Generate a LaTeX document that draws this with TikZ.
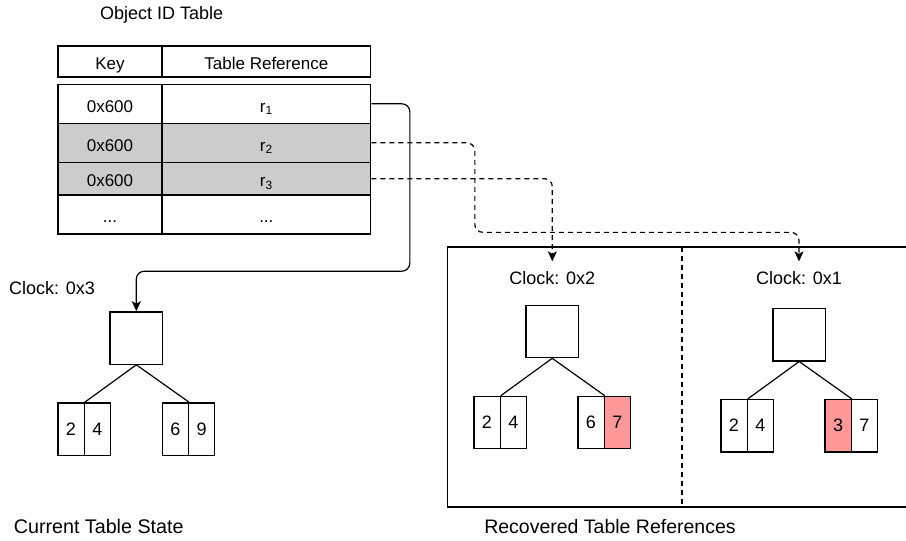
\documentclass[tikz,border=0pt]{standalone}
\usepackage{fontspec}
\setmainfont{Liberation Sans}
\usetikzlibrary{arrows.meta}
\definecolor{grayfill}{HTML}{CCCCCC}
\definecolor{pinkfill}{HTML}{FF9999}
\begin{document}
\begin{tikzpicture}[x=1pt,y=-1pt, line width=1.3pt,
 box/.style={draw, inner sep=0pt},
 tcell/.style={box, minimum height=39pt, text height=16.5pt, text depth=0pt, font=\fontsize{17}{20}\selectfont},
 kcol/.style={minimum width=104pt},
 rcol/.style={minimum width=208.7pt},
 shaded/.style={fill=grayfill},
 leaf/.style={box, minimum width=26.3pt, minimum height=52.3pt, font=\fontsize{18}{21}\selectfont},
 hot/.style={fill=pinkfill},
 rootbox/.style={box, minimum width=52.5pt, minimum height=52.3pt},
 lbl/.style={inner sep=0pt, minimum height=32pt, font=\fontsize{18}{21}\selectfont},
 captext/.style={inner sep=0pt, font=\fontsize{19.7}{23}\selectfont},
 link/.style={line width=1.2pt, rounded corners=8pt, -{Stealth[length=10pt,width=9pt,inset=2.5pt]}},
 dlink/.style={link, dash pattern=on 5pt off 4pt},
 branch/.style={line width=1.2pt}
]
\useasboundingbox (0,0) rectangle (906,541);

% captions
\node[captext, font=\fontsize{18}{21}\selectfont] (cap0) at (161.7,15) {Object ID Table};
\node[captext] (cap1) at (98.7,526) {Current Table State};
\node[captext, font=\fontsize{19.5}{23}\selectfont] (cap2) at (610,527) {Recovered Table References};

% table header
\node[tcell, kcol, minimum height=31pt] (hk) at (110,61.5) {Key};
\node[tcell, rcol, minimum height=31pt] (hr) at (266.35,61.5) {Table Reference};

% table body
\node[tcell, kcol] (k1) at (110,103.8) {0x600};
\node[tcell, rcol] (t1) at (266.35,103.8) {r\textsubscript{1}};
\node[tcell, kcol, shaded] (k2) at (110,142.8) {0x600};
\node[tcell, rcol, shaded] (t2) at (266.35,142.8) {r\textsubscript{2}};
\node[tcell, kcol, shaded, minimum height=32.7pt] (k3) at (110,178.65) {0x600};
\node[tcell, rcol, shaded, minimum height=32.7pt] (t3) at (266.35,178.65) {r\textsubscript{3}};
\node[tcell, kcol] (k4) at (110,214.5) {...};
\node[tcell, rcol] (t4) at (266.35,214.5) {...};

% recovered frame
\draw (447.5,247) rectangle (910,507);
\draw[line width=1.2pt, dash pattern=on 5pt off 4pt] (682,247) -- (682,507);

% current tree
\node[lbl, anchor=center] (c3) at (52,288.5) {Clock: 0x3};
\node[rootbox] (root3) at (136.3,338) {};
\node[leaf] (a1) at (71,429) {2};
\node[leaf] (a2) at (97.3,429) {4};
\node[leaf] (a3) at (175.3,429) {6};
\node[leaf] (a4) at (201.6,429) {9};
\draw[branch] (root3.south) -- (a1.north east);
\draw[branch] (root3.south) -- (a3.north east);

% recovered tree clock 0x2
\node[lbl] (c2) at (552.3,278) {Clock: 0x2};
\node[rootbox] (root2) at (552.2,331.5) {};
\node[leaf] (b1) at (487,422.5) {2};
\node[leaf] (b2) at (513.3,422.5) {4};
\node[leaf] (b3) at (591,422.5) {6};
\node[leaf, hot] (b4) at (617.3,422.5) {7};
\draw[branch] (root2.south) -- (b1.north east);
\draw[branch] (root2.south) -- (b3.north east);

% recovered tree clock 0x1
\node[lbl] (c1) at (799,278) {Clock: 0x1};
\node[rootbox] (root1) at (799.2,334.7) {};
\node[leaf] (d1) at (734,425.7) {2};
\node[leaf] (d2) at (760.3,425.7) {4};
\node[leaf, hot] (d3) at (838,425.7) {3};
\node[leaf] (d4) at (864.3,425.7) {7};
\draw[branch] (root1.south) -- (d1.north east);
\draw[branch] (root1.south) -- (d3.north east);

% connectors
\draw[link] (t1.east) -- ++(38.5,0) |- ([yshift=40pt]root3.north) -- (root3.north);
\draw[dlink] (t2.east) -- ++(103.5,0) |- ([yshift=29pt]c1.north) -- (c1.north);
\draw[dlink] (t3.east) -| (c2.north);
\end{tikzpicture}
\end{document}
